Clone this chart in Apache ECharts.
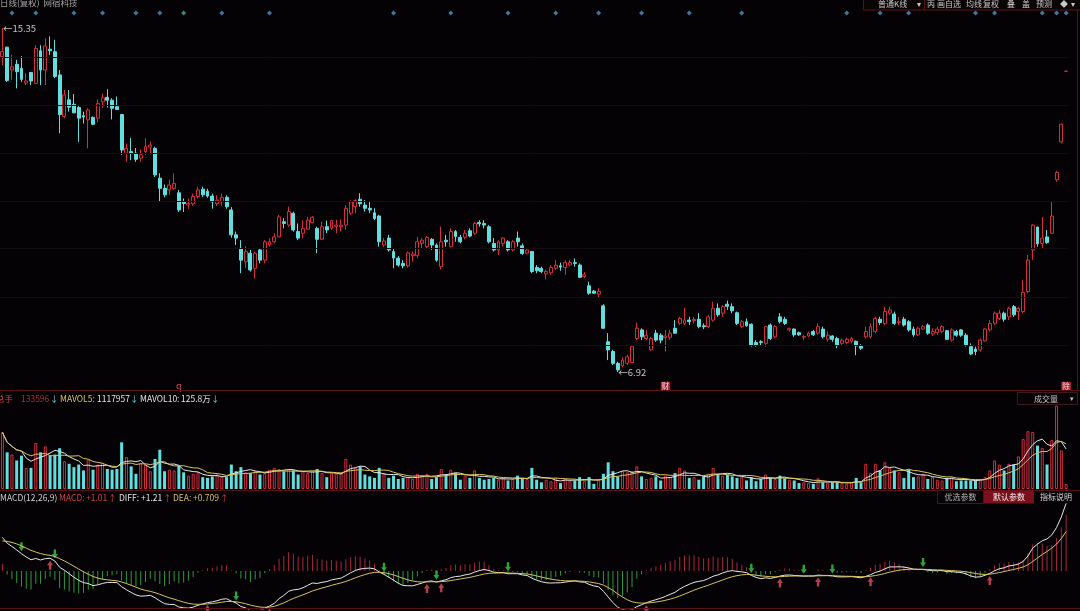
<!DOCTYPE html>
<html>
<head>
<meta charset="utf-8">
<title>日线(复权) 网宿科技</title>
<script src="https://cdn.jsdelivr.net/npm/echarts@6/dist/echarts.min.js"></script>
<style>
    html, body { margin: 0; padding: 0; background: #040204; }
    #main { width: 1080px; height: 611px; }
</style>
</head>
<body>
<div id="main"></div>
<script>
// 开盘价
const opens = [
    14.65, 14.88, 14.32, 14.46, 14.36, 14.00, 14.26, 13.99, 14.79, 14.32,
    14.83, 14.77, 14.20, 13.18, 13.59, 13.48, 13.40, 13.20, 13.10, 13.16,
    13.14, 13.54, 13.65, 13.58, 13.42, 13.23, 12.28, 12.32, 12.28, 12.16,
    12.32, 12.43, 12.40, 11.67, 11.42, 11.38, 11.42, 11.31, 11.09, 11.01,
    11.04, 11.22, 11.40, 11.35, 11.23, 11.05, 11.09, 11.20, 10.89, 10.28,
    9.95, 9.62, 9.83, 9.46, 9.91, 9.66, 10.03, 10.11, 10.23, 10.60,
    10.52, 10.81, 10.36, 10.32, 10.42, 10.58, 10.44, 10.17, 10.48, 10.44,
    10.49, 10.48, 10.52, 10.81, 10.97, 11.15, 11.01, 10.93, 10.82, 10.74,
    10.03, 10.20, 9.87, 9.71, 9.58, 9.52, 9.77, 9.77, 10.07, 9.99,
    10.17, 10.03, 9.50, 10.15, 9.99, 10.36, 10.22, 10.22, 10.38, 10.32,
    10.58, 10.56, 10.48, 10.07, 9.91, 10.07, 10.11, 9.91, 10.20, 10.01,
    9.83, 9.87, 9.48, 9.46, 9.32, 9.35, 9.46, 9.52, 9.48, 9.54,
    9.60, 9.54, 9.26, 9.03, 8.90, 8.83, 8.54, 7.66, 7.42, 7.13,
    7.07, 7.13, 7.15, 7.74, 7.95, 7.74, 7.46, 7.87, 7.82, 7.76,
    7.77, 7.99, 8.11, 8.11, 8.19, 8.18, 8.21, 8.05, 8.03, 8.19,
    8.48, 8.36, 8.58, 8.52, 8.37, 8.03, 8.15, 8.09, 7.64, 7.66,
    7.62, 8.07, 7.78, 8.27, 8.21, 7.95, 7.97, 7.88, 7.77, 7.80,
    7.91, 7.87, 7.97, 7.72, 7.80, 7.74, 7.62, 7.64, 7.67, 7.67,
    7.56, 7.78, 7.78, 7.91, 8.21, 8.11, 8.36, 8.34, 8.13, 8.21,
    8.15, 7.97, 7.83, 7.97, 8.07, 7.85, 7.89, 7.91, 7.93, 7.70,
    7.91, 7.95, 7.82, 7.54, 7.48, 7.46, 7.68, 7.95, 8.11, 8.23,
    8.36, 8.27, 8.52, 8.40, 8.40, 8.89, 9.91, 10.47, 10.07, 10.23,
    10.32, 11.63, 12.56, 14.29
];
// 收盘价
const closes = [
    14.77, 14.06, 14.40, 14.28, 14.09, 14.05, 14.05, 14.85, 14.32, 14.91,
    14.79, 14.16, 13.23, 13.71, 13.41, 13.27, 13.14, 13.17, 13.34, 12.99,
    13.50, 13.64, 13.58, 13.38, 13.35, 12.36, 12.40, 12.28, 12.13, 12.24,
    12.44, 12.48, 11.75, 11.42, 11.26, 11.50, 11.54, 10.89, 11.05, 11.05,
    11.22, 11.38, 11.26, 11.23, 11.09, 11.13, 11.20, 10.97, 10.28, 10.20,
    9.66, 9.87, 9.42, 9.83, 9.66, 10.11, 10.11, 10.23, 10.72, 10.56,
    10.85, 10.40, 10.20, 10.44, 10.64, 10.71, 10.17, 10.48, 10.40, 10.63,
    10.52, 10.52, 10.93, 11.09, 11.12, 11.04, 10.93, 10.89, 10.68, 10.11,
    10.13, 9.91, 9.71, 9.54, 9.52, 9.84, 9.81, 10.11, 10.15, 10.22,
    10.03, 9.66, 10.11, 10.11, 10.36, 10.24, 10.11, 10.32, 10.25, 10.56,
    10.55, 10.52, 10.11, 9.91, 10.11, 10.20, 9.91, 10.11, 10.11, 9.82,
    9.91, 9.38, 9.40, 9.38, 9.38, 9.48, 9.54, 9.49, 9.60, 9.60,
    9.58, 9.24, 9.30, 8.85, 8.85, 8.89, 7.99, 7.46, 7.13, 6.97,
    7.21, 7.29, 7.54, 7.99, 7.78, 7.82, 7.74, 7.70, 7.70, 7.80,
    7.87, 7.87, 8.23, 8.19, 8.15, 8.21, 8.03, 8.03, 8.27, 8.48,
    8.32, 8.52, 8.53, 8.42, 8.11, 8.15, 8.05, 7.58, 7.58, 7.64,
    8.03, 7.74, 8.03, 8.15, 8.11, 7.98, 7.83, 7.83, 7.79, 7.87,
    7.83, 8.03, 7.78, 7.82, 7.72, 7.58, 7.70, 7.72, 7.74, 7.56,
    7.50, 7.91, 8.03, 8.23, 8.13, 8.40, 8.44, 8.11, 8.15, 8.07,
    7.95, 7.83, 7.99, 8.03, 7.87, 7.91, 7.97, 8.03, 7.72, 7.95,
    7.82, 7.82, 7.58, 7.36, 7.42, 7.70, 7.97, 8.11, 8.36, 8.36,
    8.21, 8.48, 8.32, 8.48, 8.87, 9.66, 10.52, 10.06, 10.20, 10.09,
    10.74, 11.81, 12.99, 14.29
];
// 最低价
const lows = [
    14.44, 14.03, 14.08, 13.87, 14.03, 13.95, 13.95, 13.98, 13.95, 13.95,
    14.69, 14.12, 12.77, 13.14, 13.30, 13.26, 12.56, 13.01, 12.40, 12.97,
    13.04, 13.39, 13.40, 13.11, 13.34, 12.24, 12.07, 12.11, 12.07, 12.07,
    12.24, 12.28, 11.70, 11.09, 11.20, 11.26, 11.38, 10.84, 10.84, 10.92,
    10.99, 11.17, 11.21, 11.19, 10.92, 10.99, 10.99, 10.92, 10.21, 10.03,
    9.34, 9.47, 9.38, 9.21, 9.58, 9.58, 9.99, 10.07, 10.22, 10.44,
    10.48, 10.36, 10.15, 10.20, 10.40, 10.56, 9.83, 10.15, 10.32, 10.40,
    10.32, 10.36, 10.40, 10.77, 10.81, 10.97, 10.85, 10.81, 10.64, 9.99,
    9.99, 9.87, 9.46, 9.50, 9.46, 9.48, 9.62, 9.71, 9.95, 9.95,
    9.91, 9.62, 9.43, 9.99, 9.97, 10.11, 10.07, 10.17, 10.22, 10.28,
    10.48, 10.44, 10.07, 9.87, 9.79, 9.99, 9.87, 9.87, 9.99, 9.79,
    9.80, 9.34, 9.34, 9.34, 9.19, 9.30, 9.42, 9.40, 9.30, 9.52,
    9.50, 9.22, 9.22, 8.81, 8.83, 8.75, 7.97, 7.21, 7.09, 6.92,
    7.03, 7.09, 7.13, 7.70, 7.70, 7.70, 7.44, 7.66, 7.62, 7.42,
    7.70, 7.85, 8.07, 8.07, 8.07, 8.11, 7.99, 7.97, 7.99, 8.15,
    8.27, 8.27, 8.44, 8.36, 8.07, 7.99, 8.03, 7.54, 7.54, 7.58,
    7.54, 7.70, 7.74, 8.11, 8.07, 7.91, 7.78, 7.80, 7.70, 7.78,
    7.80, 7.83, 7.74, 7.66, 7.66, 7.50, 7.58, 7.60, 7.62, 7.33,
    7.46, 7.74, 7.74, 7.87, 8.07, 8.07, 8.32, 8.07, 8.07, 8.03,
    7.91, 7.78, 7.80, 7.95, 7.83, 7.80, 7.83, 7.87, 7.70, 7.66,
    7.78, 7.78, 7.54, 7.33, 7.33, 7.42, 7.66, 7.91, 8.07, 8.19,
    8.15, 8.19, 8.27, 8.19, 8.36, 8.85, 9.66, 9.99, 9.95, 10.06,
    10.30, 11.58, 12.52, 14.29
];
// 最高价
const highs = [
    15.35, 14.89, 14.69, 14.57, 14.66, 14.24, 14.27, 14.93, 14.93, 15.10,
    15.14, 15.06, 14.32, 13.83, 13.83, 13.73, 13.44, 13.30, 13.38, 13.18,
    13.60, 13.74, 13.85, 13.63, 13.67, 13.23, 12.52, 12.65, 12.41, 12.37,
    12.65, 12.57, 12.44, 11.79, 11.51, 11.63, 11.79, 11.38, 11.17, 11.17,
    11.29, 11.46, 11.46, 11.41, 11.29, 11.25, 11.29, 11.25, 10.96, 10.36,
    10.15, 10.00, 9.91, 9.87, 9.95, 10.15, 10.20, 10.32, 10.77, 10.69,
    10.97, 10.85, 10.56, 10.64, 10.72, 10.74, 10.48, 10.60, 10.63, 10.65,
    10.65, 10.66, 11.01, 11.13, 11.15, 11.30, 11.13, 11.09, 10.93, 10.77,
    10.20, 10.28, 9.95, 9.76, 9.66, 9.87, 9.87, 10.23, 10.20, 10.25,
    10.20, 10.07, 10.48, 10.28, 10.44, 10.40, 10.28, 10.40, 10.44, 10.60,
    10.64, 10.64, 10.52, 10.20, 10.15, 10.22, 10.15, 10.15, 10.36, 10.07,
    9.95, 9.89, 9.54, 9.50, 9.43, 9.54, 9.66, 9.60, 9.66, 9.66,
    9.70, 9.58, 9.37, 9.13, 8.93, 8.97, 8.58, 7.87, 7.46, 7.17,
    7.29, 7.34, 7.58, 8.13, 7.99, 7.95, 7.78, 7.95, 7.87, 7.95,
    7.95, 8.19, 8.27, 8.49, 8.27, 8.27, 8.36, 8.11, 8.32, 8.64,
    8.60, 8.56, 8.67, 8.60, 8.40, 8.19, 8.23, 8.11, 7.70, 7.70,
    8.03, 8.11, 8.07, 8.36, 8.27, 8.01, 7.99, 7.91, 7.82, 7.91,
    7.95, 8.11, 8.03, 7.91, 7.82, 7.78, 7.74, 7.76, 7.78, 7.69,
    7.60, 8.03, 8.11, 8.27, 8.27, 8.52, 8.52, 8.40, 8.27, 8.27,
    8.19, 8.03, 8.03, 8.07, 8.11, 7.99, 8.03, 8.07, 7.95, 7.99,
    7.95, 7.97, 7.87, 7.62, 7.54, 7.74, 7.99, 8.19, 8.40, 8.44,
    8.40, 8.52, 8.56, 8.52, 9.17, 9.79, 10.54, 10.48, 10.72, 10.40,
    11.09, 11.85, 13.01, 14.29
];
// 成交量(万手)
const volumes = [
    153, 99, 93, 77, 90, 57, 57, 124, 99, 115,
    90, 93, 110, 75, 68, 59, 66, 50, 79, 52,
    66, 70, 54, 52, 54, 126, 86, 61, 41, 70,
    66, 48, 81, 106, 48, 52, 50, 63, 45, 36,
    41, 45, 32, 30, 34, 39, 32, 32, 66, 48,
    59, 45, 43, 48, 39, 43, 52, 57, 54, 48,
    52, 50, 39, 48, 43, 48, 54, 43, 32, 43,
    41, 43, 81, 66, 57, 61, 39, 34, 30, 57,
    43, 30, 36, 27, 30, 32, 27, 41, 36, 41,
    27, 32, 54, 39, 52, 43, 25, 36, 30, 50,
    30, 25, 27, 30, 25, 30, 23, 27, 36, 30,
    27, 57, 25, 18, 25, 21, 29, 16, 29, 23,
    23, 32, 21, 32, 14, 25, 41, 72, 48, 34,
    48, 45, 48, 61, 34, 27, 30, 34, 23, 36,
    32, 43, 57, 50, 30, 32, 25, 34, 41, 57,
    39, 36, 39, 34, 30, 32, 23, 32, 21, 27,
    39, 30, 27, 36, 29, 25, 23, 16, 18, 16,
    14, 29, 18, 16, 18, 18, 16, 14, 18, 30,
    18, 68, 43, 68, 50, 72, 57, 50, 45, 30,
    52, 32, 34, 41, 27, 32, 25, 23, 30, 32,
    21, 23, 23, 23, 23, 27, 32, 50, 77, 66,
    50, 68, 66, 88, 135, 156, 154, 117, 111, 66,
    132, 225, 104, 13.3596
];
// 信息地雷所在的K线序号
const infoMarks = [2, 7, 15, 21, 28, 33, 38, 46, 56, 82, 94, 106, 116, 125, 134, 144, 155, 177, 184, 190, 204, 208, 218, 221, 223];
const infoMarksGreen = [38];
// 底部标记
const noteMarks = [
    { idx: 37, text: 'q' },
    { idx: 139, text: '财' },
    { idx: 223, text: '除' }
];
// MACD 金叉 / 死叉位置
const goldCross = [10, 43, 56, 89, 92, 135, 163, 171, 182, 207];
const deadCross = [4, 11, 49, 80, 91, 106, 157, 168, 174, 193];
// 主图网格价位
const priceGrid = [14.64, 13.46, 12.29, 11.11, 9.94, 8.76, 7.58];
// 图外已有的均线状态(MACD 起算点)
const macdStart = { ema12: 14.80, ema26: 14.15, dea: 0.52 };

const RED = '#d42f3f';
const CYAN = '#62dede';
const BG = '#040204';
const LINE_RED = '#5a1219';
const FONT = '"Noto Sans CJK SC", "Noto Sans", sans-serif';

const days = closes.map((_, i) => i);
const kData = days.map(i => [opens[i], closes[i], lows[i], highs[i]]);
const isUp = i => closes[i] > opens[i] || (closes[i] === opens[i] && i > 0 && closes[i] >= closes[i - 1]);

function movingAvg(arr, n) {
    return arr.map((_, i) => {
        const s = arr.slice(Math.max(0, i - n + 1), i + 1);
        return s.reduce((a, b) => a + b, 0) / s.length;
    });
}
const mavol5 = movingAvg(volumes, 5);
const mavol10 = movingAvg(volumes, 10);

// MACD(12,26,9)
const diffs = [], deas = [], macdBars = [];
let e12 = macdStart.ema12, e26 = macdStart.ema26, dea = macdStart.dea;
closes.forEach(c => {
    e12 += (c - e12) * 2 / 13;
    e26 += (c - e26) * 2 / 27;
    const d = e12 - e26;
    dea += (d - dea) * 2 / 10;
    diffs.push(d);
    deas.push(dea);
    macdBars.push(2 * (d - dea));
});

let hiIdx = 0, loIdx = 0;
highs.forEach((v, i) => { if (v > highs[hiIdx]) hiIdx = i; });
lows.forEach((v, i) => { if (v < lows[loIdx]) loIdx = i; });

function txt(x, y, text, fill, size, align) {
    return {
        type: 'text', x: x, y: y, z: 20, silent: true,
        style: { text: text, fill: fill, font: (size || 8.5) + 'px ' + FONT, align: align || 'left', verticalAlign: 'middle' }
    };
}
function hline(y, x1, x2, color) {
    return { type: 'line', z: 15, silent: true, shape: { x1: x1, y1: y, x2: x2, y2: y }, style: { stroke: color || LINE_RED, lineWidth: 1 } };
}

const arrowPath = 'path://M5,0 L10,5 L7,5 L7,10 L3,10 L3,5 L0,5 Z';

let myChart = echarts.init(document.getElementById('main'));
let option = {
    backgroundColor: BG,
    animation: false,
    grid: [
        { left: 0, right: 11.5, top: 8, height: 382 },
        { left: 0, right: 11.5, top: 403, height: 86 },
        { left: 0, right: 11.5, top: 501, height: 108 }
    ],
    xAxis: [0, 1, 2].map(g => ({
        type: 'category', gridIndex: g, data: days, boundaryGap: true,
        axisLine: { show: false }, axisTick: { show: false }, axisLabel: { show: false }, splitLine: { show: false }
    })),
    yAxis: [
        { gridIndex: 0, min: 6.477, max: 15.84, show: false, splitLine: { show: false } },
        { gridIndex: 1, min: 0, max: 232, show: false, splitLine: { show: false } },
        { gridIndex: 2, min: -0.68, max: 1.25, show: false, splitLine: { show: false } }
    ],
    series: [
        {
            type: 'candlestick', xAxisIndex: 0, yAxisIndex: 0,
            data: kData, barWidth: 3.4,
            itemStyle: { color: BG, color0: CYAN, borderColor: RED, borderColor0: CYAN, borderWidth: 1 },
            markLine: {
                silent: true, symbol: 'none', label: { show: false },
                lineStyle: { color: '#120d0f', width: 1, type: 'solid' },
                data: priceGrid.map(v => ({ yAxis: v }))
            },
            markPoint: {
                silent: true, symbol: 'circle', symbolSize: 1,
                itemStyle: { color: 'transparent' },
                label: { show: true, position: 'right', distance: 0, color: '#c4c4c4', fontSize: 9.5, fontFamily: FONT },
                data: [
                    { coord: [hiIdx, highs[hiIdx]], label: { formatter: '←' + highs[hiIdx].toFixed(2) } },
                    { coord: [loIdx, lows[loIdx]], label: { formatter: '←' + lows[loIdx].toFixed(2) } }
                ].concat(noteMarks.map(m => ({
                    coord: [m.idx, 6.575],
                    label: m.text === 'q'
                        ? { formatter: m.text, position: 'inside', color: '#d8506a', fontSize: 9 }
                        : { formatter: m.text, position: 'inside', color: '#f2d6d6', fontSize: 7.5, backgroundColor: '#a82436', padding: [1, 1, 0, 1] }
                })))
            }
        },
        {
            type: 'scatter', xAxisIndex: 0, yAxisIndex: 0, symbol: 'diamond', symbolSize: 5, silent: true,
            itemStyle: { color: '#4f96bf' },
            data: infoMarks.map(i => ({
                value: [i, 15.72],
                itemStyle: infoMarksGreen.indexOf(i) >= 0 ? { color: '#3db37c' } : undefined
            }))
        },
        {
            type: 'bar', xAxisIndex: 1, yAxisIndex: 1, barWidth: 3, silent: true,
            data: volumes.map((v, i) => ({
                value: v,
                itemStyle: isUp(i)
                    ? { color: 'transparent', borderColor: RED, borderWidth: 1 }
                    : { color: CYAN }
            }))
        },
        {
            type: 'line', xAxisIndex: 1, yAxisIndex: 1, data: mavol5, symbol: 'none', silent: true,
            lineStyle: { color: '#e6e6e6', width: 1 }
        },
        {
            type: 'line', xAxisIndex: 1, yAxisIndex: 1, data: mavol10, symbol: 'none', silent: true,
            lineStyle: { color: '#d6c45c', width: 1 }
        },
        {
            type: 'bar', xAxisIndex: 2, yAxisIndex: 2, barWidth: 1, silent: true,
            data: macdBars.map(v => ({ value: v, itemStyle: { color: v >= 0 ? '#a8283a' : '#2f9a3c' } }))
        },
        {
            type: 'line', xAxisIndex: 2, yAxisIndex: 2, data: diffs, symbol: 'none', silent: true,
            lineStyle: { color: '#e8e8e8', width: 1 }
        },
        {
            type: 'line', xAxisIndex: 2, yAxisIndex: 2, data: deas, symbol: 'none', silent: true,
            lineStyle: { color: '#d8c260', width: 1 }
        },
        {
            type: 'scatter', xAxisIndex: 2, yAxisIndex: 2, symbol: arrowPath, symbolSize: [6, 9],
            symbolOffset: [0, 7], silent: true, itemStyle: { color: '#e0505e' },
            data: goldCross.map(i => [i, diffs[i]])
        },
        {
            type: 'scatter', xAxisIndex: 2, yAxisIndex: 2, symbol: arrowPath, symbolSize: [6, 9],
            symbolRotate: 180, symbolOffset: [0, -7], silent: true, itemStyle: { color: '#3ccc44' },
            data: deadCross.map(i => [i, diffs[i]])
        }
    ],
    graphic: [
        // 分隔线
        hline(390.5, 0, 1080),
        hline(490.5, 0, 1080),
        hline(608.5, 0, 1080),
        { type: 'line', z: 15, silent: true, shape: { x1: 1077.5, y1: 10, x2: 1077.5, y2: 391 }, style: { stroke: LINE_RED, lineWidth: 1 } },
        // 标题
        txt(0, 3, '日线(复权)  网宿科技', '#a8a8a8', 8.5),
        // 右上工具栏
        { type: 'rect', z: 15, silent: true, shape: { x: 863.5, y: -2, width: 220, height: 12 }, style: { fill: '#0a0405', stroke: LINE_RED, lineWidth: 1 } },
        txt(878, 3.5, '普通K线', '#c8c8c8', 8),
        txt(917, 3.5, '▾', '#c8c8c8', 8),
        { type: 'line', z: 21, silent: true, shape: { x1: 924.5, y1: 0, x2: 924.5, y2: 10 }, style: { stroke: LINE_RED, lineWidth: 1 } },
        txt(927, 3.5, '丙', '#c8c8c8', 8),
        txt(937, 3.5, '画自选', '#c8c8c8', 8),
        txt(966, 3.5, '均线', '#c8c8c8', 8),
        txt(983, 3.5, '复权', '#c8c8c8', 8),
        txt(1007, 3.5, '叠', '#c8c8c8', 8),
        txt(1022, 3.5, '盖', '#c8c8c8', 8),
        txt(1036, 3.5, '预测', '#c8c8c8', 8),
        txt(1060, 3.5, '◆', '#c8c8c8', 8),
        txt(1071, 3.5, '▾', '#c8c8c8', 8),
        // 成交量图例
        txt(-4, 399, '总手', '#d0404e'),
        txt(21, 399, '133596', '#b02a3a'),
        txt(50, 399, '↓', CYAN),
        txt(60, 399, 'MAVOL5:', '#d6c85a'),
        txt(97, 399, '1117957', '#e2e2e2'),
        txt(130, 399, '↓', CYAN),
        txt(140, 399, 'MAVOL10:', '#e2e2e2'),
        txt(181, 399, '125.8万', '#e2e2e2'),
        txt(211, 399, '↓', CYAN),
        { type: 'rect', z: 19, silent: true, shape: { x: 1017.5, y: 392.5, width: 60, height: 12 }, style: { fill: '#080304', stroke: '#3c1a1e', lineWidth: 1 } },
        txt(1046, 398.5, '成交量', '#c4c4c4', 8, 'center'),
        txt(1072, 398.5, '▾', '#c4c4c4', 7, 'center'),
        // MACD 图例
        txt(0, 497.5, 'MACD(12,26,9)', '#d0d0d0'),
        txt(59, 497.5, 'MACD:', '#d0404e'),
        txt(86, 497.5, '+1.01', '#d0404e'),
        txt(108, 497.5, '↑', '#d0404e'),
        txt(119, 497.5, 'DIFF:', '#e2e2e2'),
        txt(141, 497.5, '+1.21', '#e2e2e2'),
        txt(163, 497.5, '↑', '#d0404e'),
        txt(173, 497.5, 'DEA:', '#d6c260'),
        txt(193, 497.5, '+0.709', '#d6c260'),
        txt(220, 497.5, '↑', '#d0404e'),
        { type: 'rect', z: 19, silent: true, shape: { x: 937.5, y: 490.5, width: 46, height: 13 }, style: { fill: '#080304', stroke: '#3c1a1e', lineWidth: 1 } },
        txt(960.5, 497, '优选参数', '#b4b4b4', 8, 'center'),
        { type: 'rect', z: 19, silent: true, shape: { x: 984, y: 490.5, width: 50, height: 13 }, style: { fill: '#7c0f1c' } },
        txt(1009, 497, '默认参数', '#f0f0f0', 8, 'center'),
        txt(1056, 497, '指标说明', '#dadada', 8, 'center')
    ]
};
myChart.setOption(option);
</script>
</body>
</html>
